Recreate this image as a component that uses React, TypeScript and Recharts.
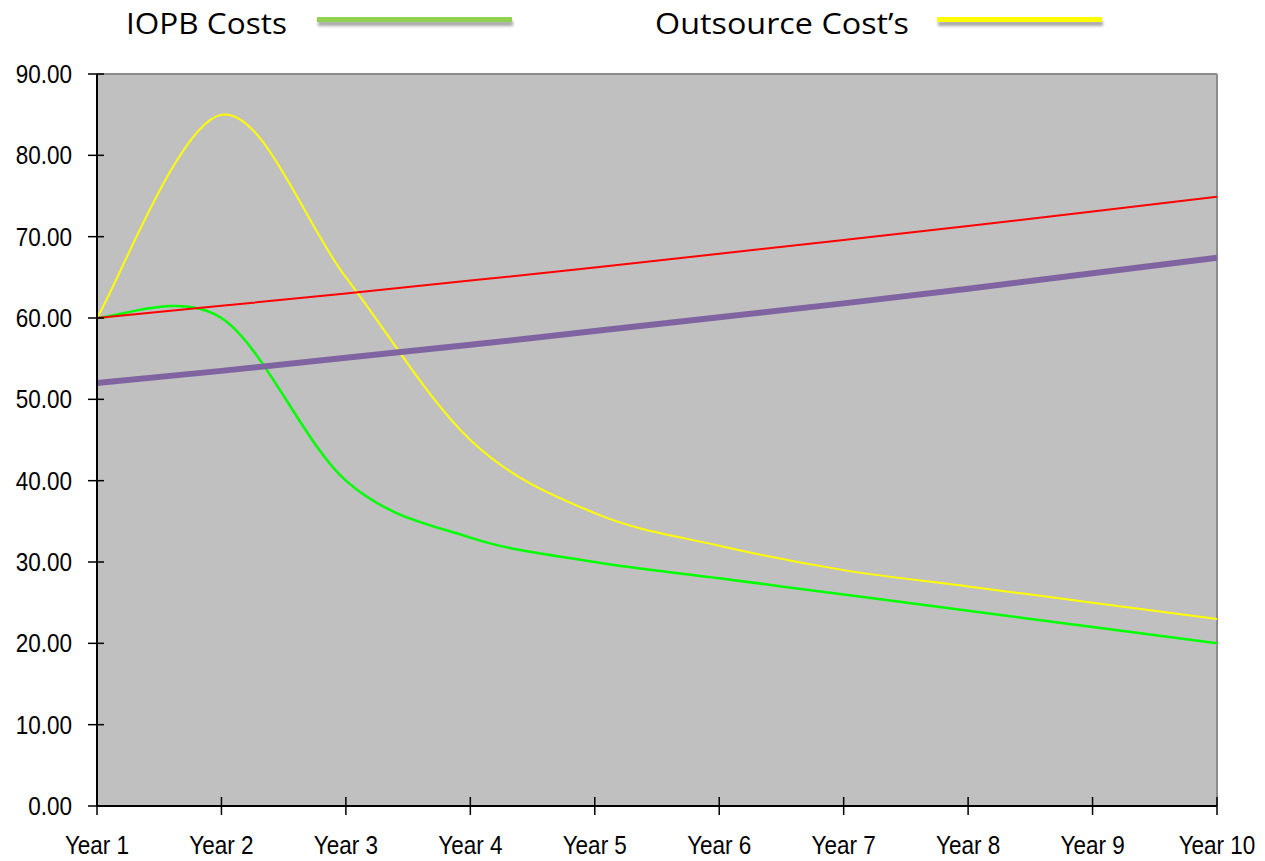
import React from 'react';
import { LineChart, Line, XAxis, YAxis, ReferenceArea, ReferenceLine } from 'recharts';

const years = ['Year 1', 'Year 2', 'Year 3', 'Year 4', 'Year 5', 'Year 6', 'Year 7', 'Year 8', 'Year 9', 'Year 10'];
const iopbCosts = [60, 60, 40, 33, 30, 28, 26, 24, 22, 20];
const outsourceCosts = [60, 85, 65, 45, 36, 32, 29, 27, 25, 23];
const redLine = [60, 61.5, 63.0, 64.6, 66.2, 67.9, 69.6, 71.3, 73.1, 74.9];
const purpleLine = [52, 53.5, 55.1, 56.7, 58.4, 60.1, 61.8, 63.6, 65.5, 67.4];
const yTicks = [0, 10, 20, 30, 40, 50, 60, 70, 80, 90];

const data = years.map((year, i) => ({
  year,
  iopb: iopbCosts[i],
  outsource: outsourceCosts[i],
  red: redLine[i],
  purple: purpleLine[i],
}));

const W = 1265;
const H = 861;
const PLOT_LEFT = 97;
const PLOT_BOTTOM = 806;
const TICK_FONT = '"Liberation Sans", Arial, sans-serif';

// Excel-style smoothed line (Catmull-Rom through the points)
const excelSmooth = (context: any) => {
  let xs: number[] = [];
  let ys: number[] = [];
  return {
    areaStart() {},
    areaEnd() {},
    lineStart() { xs = []; ys = []; },
    point(x: number, y: number) { xs.push(+x); ys.push(+y); },
    lineEnd() {
      const n = xs.length;
      if (!n) return;
      context.moveTo(xs[0], ys[0]);
      for (let i = 0; i < n - 1; i++) {
        const p0 = i > 0 ? i - 1 : i;
        const p3 = i + 2 < n ? i + 2 : i + 1;
        const c1x = xs[i] + (xs[i + 1] - xs[p0]) / 6;
        const c1y = ys[i] + (ys[i + 1] - ys[p0]) / 6;
        const c2x = xs[i + 1] - (xs[p3] - xs[i]) / 6;
        const c2y = ys[i + 1] - (ys[p3] - ys[i]) / 6;
        context.bezierCurveTo(c1x, c1y, c2x, c2y, xs[i + 1], ys[i + 1]);
      }
    },
  };
};

// tick labels in the original are slightly condensed
const XTick = (props: any) => {
  const { x, payload } = props;
  return (
    <g>
      <line x1={x} x2={x} y1={PLOT_BOTTOM - 9} y2={PLOT_BOTTOM + 9} stroke="#000" strokeWidth={1.5} />
      <g transform={`translate(${x},${PLOT_BOTTOM + 30}) scale(0.9,1)`}>
        <text x={0} y={0} dy="0.71em" textAnchor="middle" fill="#000" fontSize={25} fontFamily={TICK_FONT}>
          {payload.value}
        </text>
      </g>
    </g>
  );
};

const YTick = (props: any) => {
  const { y, payload } = props;
  return (
    <g>
      <line x1={PLOT_LEFT - 9} x2={PLOT_LEFT + 7} y1={y} y2={y} stroke="#000" strokeWidth={1.5} />
      <g transform={`translate(72,${y}) scale(0.9,1)`}>
        <text x={0} y={0} dy="0.355em" textAnchor="end" fill="#000" fontSize={25} fontFamily={TICK_FONT}>
          {Number(payload.value).toFixed(2)}
        </text>
      </g>
    </g>
  );
};

const LegendBar = () => (
  <svg width={W} height={50} style={{ position: 'absolute', left: 0, top: 0 }}>
    <defs>
      <filter id="swatchShadow" x="-10%" y="-200%" width="120%" height="500%">
        <feGaussianBlur in="SourceAlpha" stdDeviation="1.6" />
        <feOffset dx="1" dy="4" result="b" />
        <feComponentTransfer><feFuncA type="linear" slope="0.35" /></feComponentTransfer>
        <feMerge><feMergeNode /><feMergeNode in="SourceGraphic" /></feMerge>
      </filter>
    </defs>
    <text x={126} y={34} fontSize={29} fontFamily='"Open Sans", sans-serif' fill="#000" textLength={161} lengthAdjust="spacingAndGlyphs">
      IOPB Costs
    </text>
    <rect x={317} y={17} width={195} height={5} fill="#92D050" filter="url(#swatchShadow)" />
    <text x={655} y={34} fontSize={29} fontFamily='"Open Sans", sans-serif' fill="#000" textLength={254} lengthAdjust="spacingAndGlyphs">
      Outsource Cost’s
    </text>
    <rect x={937} y={17} width={165} height={5} fill="#FFFF00" filter="url(#swatchShadow)" />
  </svg>
);

export default function App() {
  return (
    <div style={{ position: 'absolute', left: 0, top: 0, width: W, height: H, background: '#fff' }}>
      <LineChart width={W} height={H} data={data} margin={{ top: 74, right: 48, bottom: 0, left: 0 }}>
        <ReferenceArea x1="Year 1" x2="Year 10" y1={0} y2={90} fill="#C0C0C0" fillOpacity={1} stroke="none" />
        <ReferenceLine y={90} stroke="#8C8C8C" strokeWidth={2} />
        <ReferenceLine x="Year 10" stroke="#8C8C8C" strokeWidth={2} />
        <XAxis
          dataKey="year"
          height={55}
          tickSize={0}
          tickLine={false}
          axisLine={{ stroke: '#000', strokeWidth: 2 }}
          tick={<XTick />}
          interval={0}
        />
        <YAxis
          width={97}
          domain={[0, 90]}
          ticks={yTicks}
          tickSize={0}
          tickLine={false}
          axisLine={{ stroke: '#000', strokeWidth: 2 }}
          tick={<YTick />}
          interval={0}
        />
        <Line dataKey="iopb" type={excelSmooth as any} stroke="#00FF00" strokeWidth={2.5} dot={false} isAnimationActive={false} />
        <Line dataKey="outsource" type={excelSmooth as any} stroke="#FFFF00" strokeWidth={2} dot={false} isAnimationActive={false} />
        <Line dataKey="red" type="linear" stroke="#FF0000" strokeWidth={2} dot={false} isAnimationActive={false} />
        <Line dataKey="purple" type="linear" stroke="#8064A2" strokeWidth={6} dot={false} isAnimationActive={false} />
      </LineChart>
      <LegendBar />
    </div>
  );
}
